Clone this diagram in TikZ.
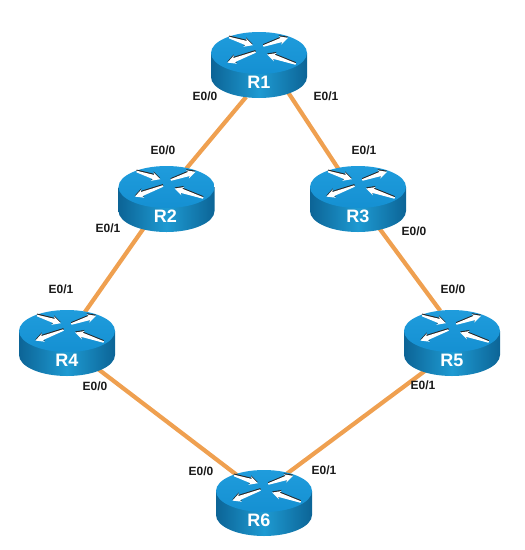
\documentclass[tikz,border=0pt]{standalone}
\usepackage{fontspec}
\setmainfont{Liberation Sans}
\usetikzlibrary{shapes.geometric,backgrounds}
\definecolor{linkc}{HTML}{EFA050}
\definecolor{portc}{HTML}{1A1A1A}
\definecolor{topc}{HTML}{1F9CDC}
\definecolor{topd}{HTML}{1590D2}
\definecolor{sidea}{HTML}{0C6496}
\definecolor{sideb}{HTML}{1E9AD2}
\tikzset{
  link/.style={draw=linkc,line width=4.2pt},
  port/.style={font=\fontsize{12}{14}\selectfont\bfseries,text=portc,inner sep=0pt},
  rname/.style={font=\fontsize{18}{20}\selectfont\bfseries,text=white,inner sep=0pt},
  rhit/.style={ellipse,minimum width=96pt,minimum height=66pt,inner sep=0pt}
}
\newcommand{\arrowpoly}{(0,-0.8)--(\LL-7,-2.2)--(\LL-8.5,-4.4)--(\LL,0)--(\LL-8.5,4.4)--(\LL-7,2.2)--(0,0.8)--cycle}
\newcommand{\rarrow}[3]{%
  \def\LL{#3}%
  \begin{scope}[shift={(#1)},yshift=1.1pt,rotate=#2]
    \fill[black!85] \arrowpoly;
  \end{scope}
  \begin{scope}[shift={(#1)},rotate=#2]
    \fill[white] \arrowpoly;
  \end{scope}}
\newcommand{\router}[4]{%
  \begin{scope}[shift={(#1,#2)}]
    \shade[left color=sidea,right color=sidea,middle color=sideb]
      (-48,0)--(-48,24) arc[start angle=180,end angle=360,x radius=48pt,y radius=21pt]--(48,0)--cycle;
    \shade[top color=topc,bottom color=topd] (0,0) ellipse[x radius=48pt,y radius=21pt];
    \rarrow{-30,-15.5}{-18}{25}
    \rarrow{4.3,-7}{18.4}{26}
    \rarrow{-3.5,-1}{200.7}{30}
    \rarrow{36.7,11}{161.6}{30}
    \node[rhit] (#3) at (0,12) {};
    \node[rname] (#3name) at (#4,29.5) {#3};
  \end{scope}}
\begin{document}
\begin{tikzpicture}[x=1pt,y=-1pt]
  \useasboundingbox (0,0) rectangle (525,550);
  \router{259}{53}{R1}{0}
  \router{166.5}{187}{R2}{-1}
  \router{358}{187}{R3}{0}
  \router{67}{331}{R4}{0}
  \router{452}{331}{R5}{0}
  \router{264}{491}{R6}{-5}
  \begin{scope}[on background layer]
    \draw[link] (R1.248) -- (R2.57);
    \draw[link] (R1.317) -- (R3.123);
    \draw[link] (R2.232) -- (R4.60);
    \draw[link] (R3.306) -- (R5.110);
    \draw[link] (R4.320) -- (R6.134);
    \draw[link] (R5.226) -- (R6.52);
  \end{scope}
  \node[port] (p1) at (205,96) {E0/0};
  \node[port] (p2) at (326,96) {E0/1};
  \node[port] (p3) at (163,150) {E0/0};
  \node[port] (p4) at (364,150) {E0/1};
  \node[port] (p5) at (108,228) {E0/1};
  \node[port] (p6) at (414,231) {E0/0};
  \node[port] (p7) at (61,289) {E0/1};
  \node[port] (p8) at (453,289) {E0/0};
  \node[port] (p9) at (95,386) {E0/0};
  \node[port] (p10) at (423,385) {E0/1};
  \node[port] (p11) at (201,471) {E0/0};
  \node[port] (p12) at (324,470) {E0/1};
\end{tikzpicture}
\end{document}
